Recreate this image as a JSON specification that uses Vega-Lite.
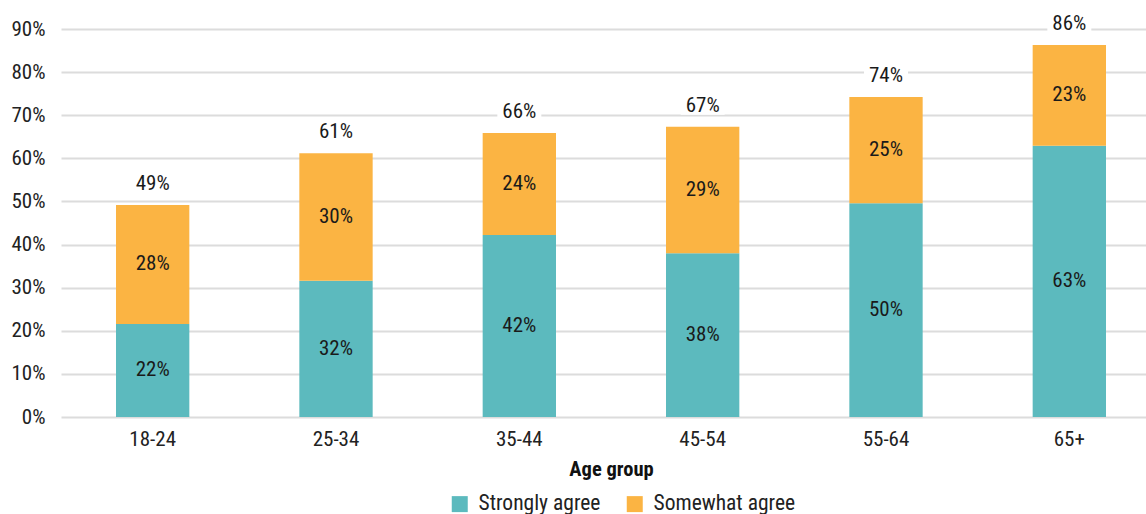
{
  "$schema": "https://vega.github.io/schema/vega-lite/v6.json",
  "autosize": {"type": "none"},
  "padding": {"left": 61, "top": 29, "right": -15, "bottom": 97},
  "width": 1100,
  "height": 388,
  "background": "white",
  "config": {
    "font": "Roboto Condensed, Liberation Sans Narrow, DejaVu Sans Condensed, Roboto",
    "view": {"stroke": null}
  },
  "data": {
    "values": [
      {"group": "18-24", "response": "Strongly agree", "value": 0.216},
      {"group": "18-24", "response": "Somewhat agree", "value": 0.276},
      {"group": "25-34", "response": "Strongly agree", "value": 0.316},
      {"group": "25-34", "response": "Somewhat agree", "value": 0.296},
      {"group": "35-44", "response": "Strongly agree", "value": 0.422},
      {"group": "35-44", "response": "Somewhat agree", "value": 0.237},
      {"group": "45-54", "response": "Strongly agree", "value": 0.380},
      {"group": "45-54", "response": "Somewhat agree", "value": 0.293},
      {"group": "55-64", "response": "Strongly agree", "value": 0.496},
      {"group": "55-64", "response": "Somewhat agree", "value": 0.246},
      {"group": "65+", "response": "Strongly agree", "value": 0.629},
      {"group": "65+", "response": "Somewhat agree", "value": 0.234}
    ]
  },
  "encoding": {
    "x": {
      "field": "group",
      "type": "nominal",
      "sort": null,
      "scale": {"paddingInner": 0.6, "paddingOuter": 0.3},
      "axis": {
        "title": "Age group",
        "titleFontSize": 20.5,
        "titleFontWeight": "bold",
        "titleColor": "#111",
        "titlePadding": 10,
        "labelAngle": 0,
        "labelFontSize": 21,
        "labelColor": "#222",
        "labelPadding": 11,
        "ticks": false,
        "domain": false
      }
    }
  },
  "layer": [
    {
      "mark": {"type": "bar"},
      "encoding": {
        "y": {
          "field": "value",
          "type": "quantitative",
          "stack": "zero",
          "scale": {"domain": [0, 0.9], "nice": false},
          "axis": {
            "title": null,
            "values": [0, 0.1, 0.2, 0.3, 0.4, 0.5, 0.6, 0.7, 0.8, 0.9],
            "format": ".0%",
            "labelFontSize": 21,
            "labelColor": "#222",
            "labelPadding": 16,
            "ticks": false,
            "domain": false,
            "gridColor": "#dcdcdc",
            "gridWidth": 2
          }
        },
        "color": {
          "field": "response",
          "type": "nominal",
          "sort": ["Strongly agree", "Somewhat agree"],
          "scale": {
            "domain": ["Strongly agree", "Somewhat agree"],
            "range": ["#5cbabe", "#fbb443"]
          },
          "legend": {
            "title": null,
            "orient": "none",
            "direction": "horizontal",
            "legendX": 388,
            "legendY": 464,
            "symbolType": "square",
            "symbolSize": 256,
            "symbolStrokeWidth": 0,
            "symbolOpacity": 1,
            "labelFontSize": 21.5,
            "labelColor": "#222",
            "labelOffset": 8,
            "columnPadding": 23
          }
        },
        "order": {"field": "response", "sort": "descending"}
      }
    },
    {
      "mark": {"type": "text", "fontSize": 21, "color": "#1a1a1a", "baseline": "middle"},
      "encoding": {
        "y": {"field": "value", "type": "quantitative", "stack": "zero", "bandPosition": 0.5},
        "detail": {"field": "response"},
        "order": {"field": "response", "sort": "descending"},
        "text": {"field": "value", "type": "quantitative", "format": ".0%"}
      }
    },
    {
      "mark": {
        "type": "point",
        "shape": "M-1.1,-0.45H1.1V0.45H-1.1Z",
        "size": 1600,
        "filled": true,
        "color": "white",
        "opacity": 1,
        "yOffset": -21
      },
      "encoding": {
        "y": {"field": "value", "type": "quantitative", "aggregate": "sum"}
      }
    },
    {
      "mark": {"type": "text", "fontSize": 21, "color": "#1a1a1a", "baseline": "middle", "dy": -21},
      "encoding": {
        "y": {"field": "value", "type": "quantitative", "aggregate": "sum"},
        "text": {"field": "value", "type": "quantitative", "aggregate": "sum", "format": ".0%"}
      }
    }
  ]
}
